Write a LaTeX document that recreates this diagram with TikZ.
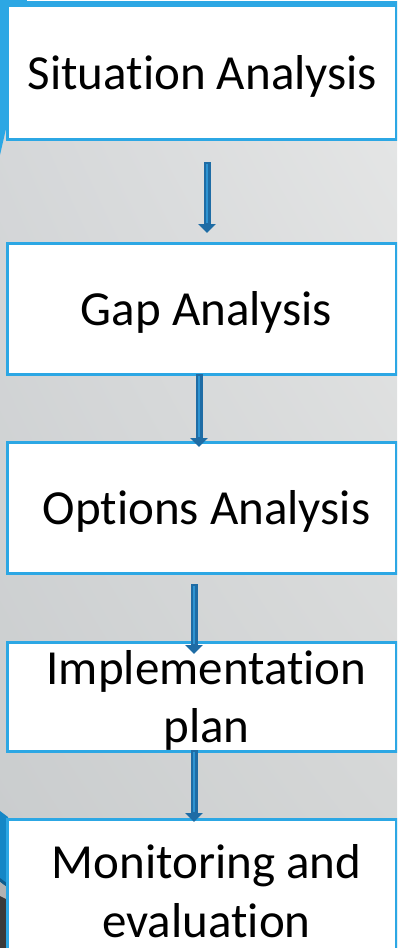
\documentclass[tikz,border=0pt]{standalone}
\usepackage{fontspec}
\setmainfont{Carlito}[Ligatures=NoCommon]
\usetikzlibrary{arrows.meta,positioning,shadings}
\definecolor{boxblue}{RGB}{44,167,228}
\definecolor{arrowdark}{RGB}{30,108,165}
\definecolor{arrowlight}{RGB}{46,148,210}
\definecolor{tabblue}{RGB}{21,135,198}
\definecolor{tabshadow}{RGB}{16,92,140}
\definecolor{tabgray}{RGB}{58,58,58}
\definecolor{bgtl}{RGB}{215,217,219}
\definecolor{bgtr}{RGB}{231,232,232}
\definecolor{bgbl}{RGB}{200,203,204}
\definecolor{bgbr}{RGB}{210,212,212}
\tikzset{
  stage/.style={
    draw=boxblue,
    line width=3pt,
    fill=white,
    minimum width=389pt,
    inner sep=0pt,
    outer sep=0pt
  },
  caption/.style={
    font=\fontsize{49}{58.5}\selectfont,
    align=center,
    inner sep=0pt,
    xshift=5pt,
    yshift=-4pt
  },
  flow/.style={
    line width=7pt,
    draw=arrowdark,
    -{Triangle[width=17pt,length=9pt]},
    postaction={draw=arrowlight, line width=2.6pt, -, shorten >=10pt, shorten <=1.5pt}
  }
}

\begin{document}
\begin{tikzpicture}[x=1pt,y=-1pt,node distance=68pt]
\useasboundingbox (0,0) rectangle (397,948);
\clip (0,0) rectangle (397,948);

% slide background
\shade[upper left=bgtl, upper right=bgtr, lower left=bgbl, lower right=bgbr]
  (0,0) rectangle (397,948);

% edge of the box above and the side tabs
\draw[boxblue, fill=white, line width=3pt] (25,-20) rectangle (410,2);
\fill[boxblue] (0,0) -- (25,0) -- (25,4) -- (8,4) -- (8,120) -- (0,155) -- cycle;
\fill[tabblue] (0,811) -- (8,817) -- (8,888) -- (0,882) -- cycle;
\fill[tabshadow] (0,878) -- (8,884) -- (8,888) -- (0,882) -- cycle;
\fill[gray!60] (0,882) -- (8,888) -- (8,900) -- (0,896) -- cycle;
\fill[tabgray] (0,896) -- (8,900) -- (8,948) -- (0,948) -- cycle;

\node[stage, minimum height=134pt, label={[caption, xshift=-4pt]center:Situation Analysis}] (situation) at (201.5,72) {};
\node[stage, minimum height=131pt, below=104pt of situation, label={[caption]center:Gap Analysis}] (gap) {};
\node[stage, minimum height=131pt, below=of gap, label={[caption]center:Options Analysis}] (options) {};
\node[stage, minimum height=109pt, below=69pt of options, label={[caption]center:Implementation\\plan}] (plan) {};
\node[stage, minimum height=136pt, below=of plan, label={[caption]center:Monitoring and\\evaluation}] (monitoring) {};

\draw[flow] ([shift={(5.5pt,-23pt)}]situation.south) -- ([shift={(5.5pt,10pt)}]gap.north);
\draw[flow] ([xshift=-2.5pt]gap.south) -- ([shift={(-2.5pt,-5pt)}]options.north);
\draw[flow] ([shift={(-7.5pt,-11pt)}]options.south) -- ([shift={(-7.5pt,-12pt)}]plan.north);
\draw[flow] ([shift={(-7.5pt,1pt)}]plan.south) -- ([shift={(-7.5pt,-3pt)}]monitoring.north);

\end{tikzpicture}
\end{document}
